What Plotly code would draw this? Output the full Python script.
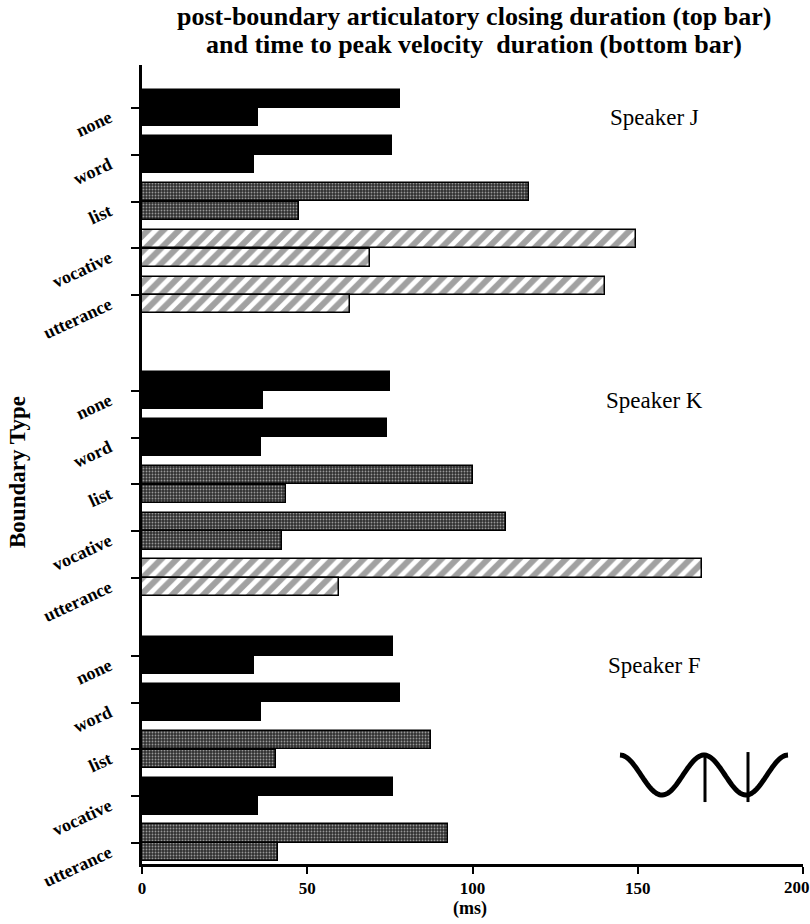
import numpy as np
import plotly.graph_objects as go

# ---------------- data ----------------
categories = ["none", "word", "list", "vocative", "utterance"]
speakers = ["Speaker J", "Speaker K", "Speaker F"]

# post-boundary articulatory closing duration (top bar), ms
closing_J = [78, 75.5, 117, 149.5, 140]
closing_K = [75, 74, 100, 110, 169.5]
closing_F = [76, 78, 87.5, 76, 92.5]

# time to peak velocity duration (bottom bar), ms
peak_J = [35, 34, 47.5, 69, 63]
peak_K = [36.5, 36, 43.5, 42.5, 59.5]
peak_F = [34, 36, 40.5, 35, 41]

# fill style of each boundary's pair of bars
fill_J = ["solid", "solid", "stipple", "hatch", "hatch"]
fill_K = ["solid", "solid", "stipple", "stipple", "hatch"]
fill_F = ["solid", "solid", "stipple", "solid", "stipple"]

x_ticks = [0, 50, 100, 150, 200]
x_ticklabels = ["0", "50", "100", "150", "200"]

title_lines = ["post-boundary articulatory closing duration (top bar)",
               "and time to peak velocity  duration (bottom bar)"]

# ---------------- layout constants ----------------
W, H = 810, 924
ML, MR, MT, MB = 142, 7, 65, 60
PW, PH = W - ML - MR, H - MT - MB
group_offsets = [0.0, 6.05, 11.72]
bar_w = 0.39
SERIF = "Liberation Serif, Times New Roman, serif"
TICKFONT_X = dict(family=SERIF, size=17, color="black", weight="bold")

styles = {
    "solid": dict(color="#000000", shape="", fg="#000000", size=8, sol=0.5),
    "stipple": dict(color="#303030", shape=".", fg="#9a9a9a", size=3, sol=0.3),
    "hatch": dict(color="#ffffff", shape="/", fg="#000000", size=11, sol=0.55),
}

closings = [closing_J, closing_K, closing_F]
peaks = [peak_J, peak_K, peak_F]
fills = [fill_J, fill_K, fill_F]

fig = go.Figure()
tickvals, ticktext = [], []
for g, (clo, pk, fl) in enumerate(zip(closings, peaks, fills)):
    pos = [group_offsets[g] + i for i in range(len(categories))]
    tickvals += pos
    ticktext += categories
    for vals, shift in ((clo, -bar_w / 2 - 0.005), (pk, bar_w / 2 + 0.005)):
        st = [styles[f] for f in fl]
        fig.add_trace(go.Bar(
            x=vals, y=[p + shift for p in pos], orientation="h", width=bar_w,
            marker=dict(
                color=[s["color"] for s in st],
                line=dict(color="#000000", width=1.5),
                pattern=dict(
                    shape=[s["shape"] for s in st],
                    fgcolor=[s["fg"] for s in st],
                    size=[s["size"] for s in st],
                    solidity=[s["sol"] for s in st],
                    fillmode="overlay",
                ),
            ),
            showlegend=False, hoverinfo="x",
        ))


def px2x(px):
    return (px - ML) / PW * 200


def py2y(py):
    return (py - 108) / 46.75


def ppx(px):
    return (px - ML) / PW


def ppy(py):
    return 1 - (py - MT) / PH


annotations = []
# speaker labels
for g, name in enumerate(speakers):
    annotations.append(dict(x=155, y=group_offsets[g] + 0.2, xref="x", yref="y",
                            text=name, showarrow=False,
                            font=dict(family=SERIF, size=23, color="black")))

# title lines
for txt, cy in zip(title_lines, (16, 45)):
    annotations.append(dict(text=txt, xref="paper", yref="paper",
                            x=ppx(474), y=ppy(cy), xanchor="center", yanchor="middle",
                            showarrow=False,
                            font=dict(family=SERIF, size=26, color="black", weight="bold")))

annotations.append(dict(text="Boundary Type", xref="paper", yref="paper",
                        x=ppx(17), y=ppy(472), textangle=-90, showarrow=False,
                        xanchor="center", yanchor="middle",
                        font=dict(family=SERIF, size=23, color="black", weight="bold")))
annotations.append(dict(text="(ms)", xref="paper", yref="paper",
                        x=ppx(470), y=ppy(909), yanchor="middle", showarrow=False,
                        font=dict(family=SERIF, size=18, color="black", weight="bold")))
# last x tick label, nudged left so it stays inside the figure (as in the original)
annotations.append(dict(text=x_ticklabels[-1], xref="x", yref="paper",
                        x=x_ticks[-1], xshift=-6, y=ppy(887), yanchor="middle",
                        showarrow=False, font=TICKFONT_X))

# wave glyph (illustration of the movement)
t = np.linspace(620, 788, 120)
wy = 775 - 20 * np.cos(2 * np.pi * (t - 620) / 84)
path = "M " + " L ".join(f"{px2x(a):.3f},{py2y(b):.3f}" for a, b in zip(t, wy))
fig.add_shape(type="path", path=path, xref="x", yref="y",
              line=dict(color="black", width=5))
for vx, vy0 in ((705, 753), (748, 752)):
    fig.add_shape(type="line", xref="x", yref="y",
                  x0=px2x(vx), x1=px2x(vx), y0=py2y(vy0), y1=py2y(802),
                  line=dict(color="black", width=3))

fig.update_layout(
    width=W, height=H,
    margin=dict(l=ML, r=MR, t=MT, b=MB, autoexpand=False),
    paper_bgcolor="white", plot_bgcolor="white",
    bargap=0, barmode="overlay",
    xaxis=dict(
        range=[0, 200], tickvals=x_ticks,
        ticktext=x_ticklabels[:-1] + [""],
        showgrid=False, zeroline=False, showline=True, linecolor="black",
        linewidth=3, ticks="outside", ticklen=7, tickwidth=2, tickcolor="black",
        automargin=False, tickfont=TICKFONT_X,
    ),
    yaxis=dict(
        range=[16.17, -0.92], tickvals=tickvals, ticktext=ticktext,
        showgrid=False, zeroline=False, showline=True, linecolor="black",
        linewidth=3, ticks="outside", ticklen=8, tickwidth=2, tickcolor="black",
        tickangle=-25, ticklabelstandoff=18, ticklabelshift=-8, automargin=False,
        tickfont=dict(family=SERIF, size=18, color="black", weight="bold"),
    ),
    annotations=annotations,
)

fig.write_html("out.html", config={"displayModeBar": False},
               post_script="document.body.style.margin='0';document.body.style.overflow='hidden';")
